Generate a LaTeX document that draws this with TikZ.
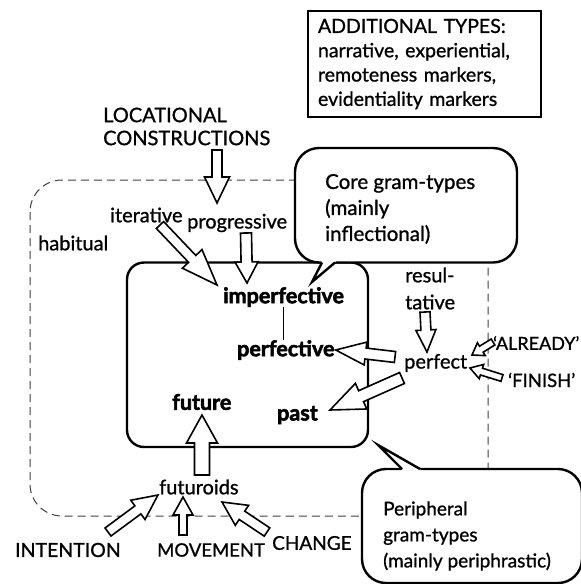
\documentclass[tikz,border=0pt]{standalone}
\usepackage{fontspec}
\setmainfont{Lato}[FakeBold=1, BoldFeatures={FakeBold=2.5}]
\usetikzlibrary{calc}

\newcommand{\fatarrow}[5]{%
  \draw[fat] let \p1=(#1), \p2=(#2), \n1={atan2(\y2-\y1,\x2-\x1)}, \n2={veclen(\x2-\x1,\y2-\y1)} in
    [shift={(\p1)}, rotate=\n1] (0pt,#3) -- (\n2-#5,#3) -- (\n2-#5,#4) -- (\n2,0pt) -- (\n2-#5,-#4) -- (\n2-#5,-#3) -- (0pt,-#3) -- cycle;}

\begin{document}
\begin{tikzpicture}[x=1pt, y=-1pt,
  txt/.style={inner sep=0pt, anchor=west, font=\fontsize{20}{24}\selectfont},
  bld/.style={txt, font=\fontsize{21.5}{24}\selectfont\bfseries},
  fat/.style={draw, fill=white, line width=1.6pt, line join=miter},
  frame/.style={draw, line width=2.4pt},
  callout/.style={frame, fill=white}]

\fill[white] (0,0) rectangle (581,584);
\useasboundingbox (0,0) rectangle (581,584);

\draw[black!75, line width=1pt, dash pattern=on 8pt off 5pt, rounded corners=32pt] (30,180) rectangle (488,516);

\draw[frame, rounded corners=17pt] (127,262.5) rectangle (368,447);

\node[frame, line width=2.8pt, minimum width=233pt, minimum height=106pt, text width=213pt, align=left, inner sep=0pt,
  font=\fontsize{19.5}{24.3}\selectfont] (types) at (424.5,64)
  {ADDITIONAL TYPES:\\narrative, experiential,\\remoteness markers,\\evidentiality markers};

% callouts
\draw[callout, rounded corners=24pt] (295,148) rectangle (517,262.5);
\fill[white] (321,260.5) -- (322,262.5) -- (312,282) -- (335,262.5) -- (336,260.5) -- cycle;
\draw[frame] (322,262.5) -- (312,282) -- (335,262.5);

\draw[callout, rounded corners=24pt] (362,469) rectangle (582,583);
\fill[white] (401,470.5) -- (402,469) -- (378,445) -- (420,469) -- (421,470.5) -- cycle;
\draw[frame] (402,469) -- (378,445) -- (420,469);

\node[txt, align=left, font=\fontsize{20.5}{26}\selectfont] (core) at (325,209) {Core gram-types\\(mainly\\inflectional)};
\node[txt, align=left, font=\fontsize{19}{26}\selectfont] (periph) at (383,536) {Peripheral\\gram-types\\(mainly periphrastic)};

% grams
\node[txt, align=left, font=\fontsize{20}{23}\selectfont] (loc) at (103,126.5) {LOCATIONAL\\CONSTRUCTIONS};
\node[txt] (iter) at (110,215) {iterative};
\node[txt] (prog) at (187,223) {progressive};
\node[txt] (habit) at (38,243) {habitual};
\node[txt, align=left, font=\fontsize{20}{27}\selectfont] (resul) at (405,288.5) {resul-\\tative};
\node[bld] (imperf) at (223,297) {imperfective};
\node[bld] (perfv) at (237,350) {perfective};
\node[txt] (perfect) at (404,363) {perfect};
\node[txt, font=\fontsize{18}{24}\selectfont] (already) at (493,343) {`ALREADY'};
\node[txt, font=\fontsize{18.5}{24}\selectfont] (finish) at (508,380) {`FINISH'};
\node[bld] (future) at (172,402) {future};
\node[bld] (past) at (277,415) {past};
\node[txt] (futuroids) at (159,487) {futuroids};
\node[txt, font=\fontsize{19.5}{24}\selectfont] (intention) at (15,550) {INTENTION};
\node[txt, font=\fontsize{18.5}{24}\selectfont] (movement) at (157,550) {MOVEMENT};
\node[txt, font=\fontsize{19}{24}\selectfont] (change) at (272,543) {CHANGE};

\draw[line width=1.4pt] (imperf.south) -- (imperf.south |- perfv.north);

% paths of development
\fatarrow{$(loc.west)+(114,23.5)$}{$(prog.west)+(30,-20)$}{5pt}{12.5pt}{26pt}
\fatarrow{$(iter.west)+(50,10)$}{$(imperf.west)+(-6,-12)$}{5pt}{13.5pt}{36pt}
\fatarrow{$(prog.west)+(59,10)$}{$(imperf.west)+(24,-14)$}{5.5pt}{11.5pt}{21pt}
\fatarrow{$(resul.west)+(20,23.5)$}{$(perfect.west)+(23,-11)$}{5pt}{10pt}{22pt}
\fatarrow{$(perfect.west)+(-9,-6)$}{$(perfv.east)+(1,0)$}{5.5pt}{11.5pt}{30pt}
\fatarrow{$(perfect.west)+(-2,15)$}{$(past.west)+(53,-5)$}{6pt}{14pt}{34pt}
\fatarrow{$(already.west)+(0,-1)$}{$(perfect.west)+(68,-8)$}{3.5pt}{7.5pt}{11pt}
\fatarrow{$(finish.west)+(-6,-2)$}{$(perfect.west)+(66,5)$}{3.5pt}{7.5pt}{12pt}
\fatarrow{$(futuroids.west)+(43,-12)$}{$(future.west)+(30,13)$}{7.5pt}{15.5pt}{28pt}
\fatarrow{$(intention.west)+(93,-18)$}{$(futuroids.west)+(-1,8)$}{5pt}{12pt}{25pt}
\fatarrow{$(movement.west)+(26,-15)$}{$(futuroids.west)+(24,10)$}{4pt}{10pt}{18pt}
\fatarrow{$(change.west)+(-5,-11)$}{$(futuroids.west)+(63,15)$}{5pt}{12pt}{24pt}
\end{tikzpicture}
\end{document}
